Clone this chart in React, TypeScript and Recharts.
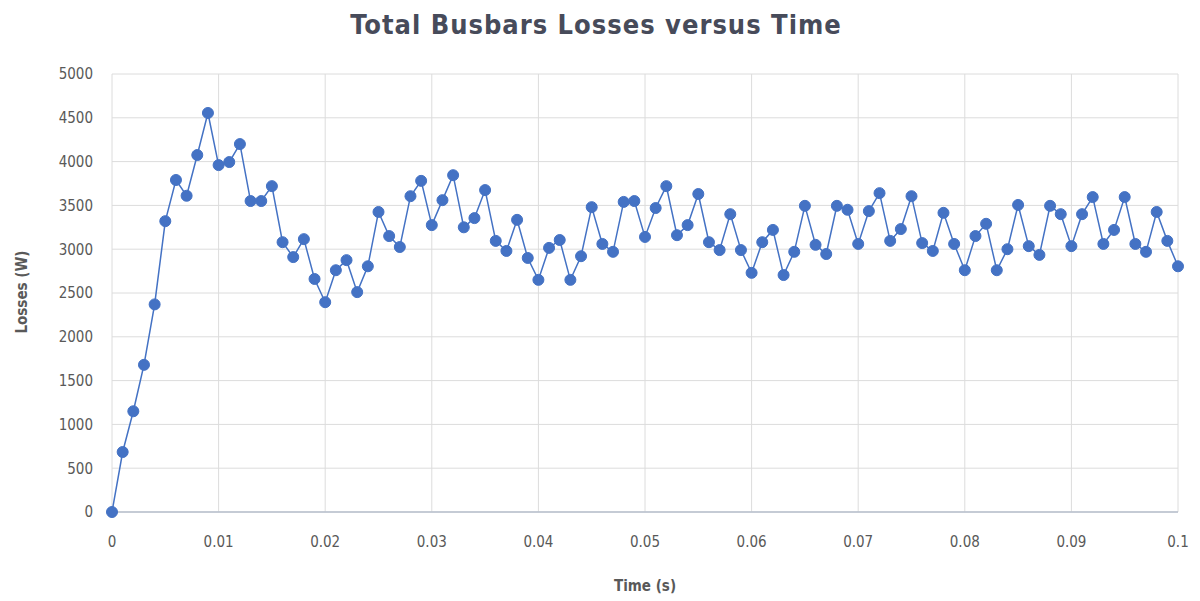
import { CartesianGrid, Line, LineChart, XAxis, YAxis } from "recharts";

const times = [
  0, 0.001, 0.002, 0.003, 0.004, 0.005, 0.006, 0.007, 0.008, 0.009,
  0.01, 0.011, 0.012, 0.013, 0.014, 0.015, 0.016, 0.017, 0.018, 0.019,
  0.02, 0.021, 0.022, 0.023, 0.024, 0.025, 0.026, 0.027, 0.028, 0.029,
  0.03, 0.031, 0.032, 0.033, 0.034, 0.035, 0.036, 0.037, 0.038, 0.039,
  0.04, 0.041, 0.042, 0.043, 0.044, 0.045, 0.046, 0.047, 0.048, 0.049,
  0.05, 0.051, 0.052, 0.053, 0.054, 0.055, 0.056, 0.057, 0.058, 0.059,
  0.06, 0.061, 0.062, 0.063, 0.064, 0.065, 0.066, 0.067, 0.068, 0.069,
  0.07, 0.071, 0.072, 0.073, 0.074, 0.075, 0.076, 0.077, 0.078, 0.079,
  0.08, 0.081, 0.082, 0.083, 0.084, 0.085, 0.086, 0.087, 0.088, 0.089,
  0.09, 0.091, 0.092, 0.093, 0.094, 0.095, 0.096, 0.097, 0.098, 0.099,
  0.1,
];

const losses = [
  0, 685, 1150, 1680, 2370, 3320, 3790, 3610, 4075, 4555,
  3960, 3995, 4200, 3550, 3550, 3720, 3080, 2910, 3115, 2660,
  2395, 2760, 2875, 2510, 2805, 3425, 3150, 3025, 3605, 3780,
  3275, 3560, 3845, 3250, 3355, 3675, 3095, 2980, 3335, 2900,
  2650, 3015, 3105, 2650, 2920, 3480, 3060, 2970, 3540, 3550,
  3140, 3470, 3720, 3160, 3275, 3630, 3080, 2990, 3400, 2990,
  2730, 3080, 3220, 2705, 2970, 3495, 3050, 2945, 3495, 3450,
  3060, 3435, 3640, 3095, 3230, 3605, 3070, 2980, 3415, 3060,
  2760, 3150, 3290, 2760, 3000, 3505, 3035, 2935, 3495, 3400,
  3035, 3400, 3595, 3060, 3220, 3595, 3060, 2970, 3425, 3095,
  2805,
];

const xTicks = [0, 0.01, 0.02, 0.03, 0.04, 0.05, 0.06, 0.07, 0.08, 0.09, 0.1];
const yTicks = [0, 500, 1000, 1500, 2000, 2500, 3000, 3500, 4000, 4500, 5000];

const data = times.map((t, i) => ({ t, loss: losses[i] }));

const BLUE = "#4472C4";
const FONT = '"Liberation Sans Narrow", "DejaVu Sans Condensed", "Open Sans", sans-serif';

export default function App() {
  return (
    <div
      style={{
        position: "absolute",
        left: 0,
        top: 0,
        width: 1200,
        height: 601,
        background: "#fff",
        fontFamily: FONT,
      }}
    >
      <div
        style={{
          position: "absolute",
          top: 9,
          left: 0,
          width: 1192,
          textAlign: "center",
          fontSize: 27,
          letterSpacing: 1,
          fontWeight: 700,
          color: "#474b5a",
        }}
      >
        Total Busbars Losses versus Time
      </div>
      <div
        style={{
          position: "absolute",
          top: 577,
          left: 545,
          width: 200,
          textAlign: "center",
          fontSize: 15,
          fontWeight: 700,
          color: "#595959",
        }}
      >
        Time (s)
      </div>
      <div
        style={{
          position: "absolute",
          left: 22,
          top: 292,
          transform: "translate(-50%, -50%) rotate(-90deg)",
          whiteSpace: "nowrap",
          fontSize: 15,
          fontWeight: 700,
          color: "#595959",
        }}
      >
        Losses (W)
      </div>
      <LineChart
        width={1200}
        height={601}
        data={data}
        margin={{ top: 74, right: 22, bottom: 29, left: 0 }}
      >
        <CartesianGrid stroke="#dcdcdc" strokeWidth={1} />
        <XAxis
          type="number"
          dataKey="t"
          domain={[0, 0.1]}
          ticks={xTicks}
          tickFormatter={(v) => String(v)}
          height={60}
          tickLine={false}
          tickMargin={18}
          axisLine={{ stroke: "#b7bfcc", strokeWidth: 1.5 }}
          tick={{ fill: "#595959", fontSize: 15, fontFamily: FONT }}
        />
        <YAxis
          type="number"
          domain={[0, 5000]}
          ticks={yTicks}
          width={112}
          tickLine={false}
          axisLine={false}
          tickMargin={13}
          tick={{ fill: "#595959", fontSize: 15, fontFamily: FONT }}
        />
        <Line
          type="linear"
          dataKey="loss"
          stroke={BLUE}
          strokeWidth={1.5}
          dot={{ r: 5.5, fill: BLUE, stroke: BLUE, strokeWidth: 1 }}
          isAnimationActive={false}
        />
      </LineChart>
    </div>
  );
}
